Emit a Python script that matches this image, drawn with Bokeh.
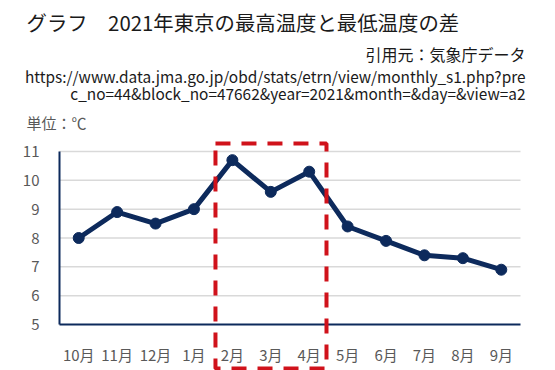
from bokeh.plotting import figure
from bokeh.models import Label, BoxAnnotation, FixedTicker, Range1d, LinearAxis
from bokeh.embed import file_html
from bokeh.resources import INLINE

months = ["10月", "11月", "12月", "1月", "2月", "3月", "4月", "5月", "6月", "7月", "8月", "9月"]
diff = [8.0, 8.9, 8.5, 9.0, 10.7, 9.6, 10.3, 8.4, 7.9, 7.4, 7.3, 6.9]
y_ticks = [5, 6, 7, 8, 9, 10, 11]
highlight = ["2月", "4月"]

FONT = "Noto Sans CJK JP"
NAVY = "#0d2a5c"
GRAY = "#595959"

W, H = 555, 370
# plot area in pixels (left, right, top, bottom)
FL, FR, FT, FB = 59, 520, 151, 324
n = len(months)
xpx = (FR - FL) / n
ypx = (FB - FT) / (y_ticks[-1] - y_ticks[0])
x0 = -0.5 - FL / xpx
x1 = n - 0.5 + (W - FR) / xpx
y0 = y_ticks[0] - (H - FB) / ypx
y1 = y_ticks[-1] + FT / ypx

p = figure(width=W, height=H, x_range=Range1d(x0, x1), y_range=Range1d(y0, y1),
           output_backend="svg", toolbar_location=None,
           x_axis_location=None, y_axis_location=None,
           min_border=0, min_border_left=0, min_border_right=0,
           min_border_top=0, min_border_bottom=0)
p.outline_line_color = None
p.background_fill_color = "white"
p.xgrid.grid_line_color = None
p.ygrid.grid_line_color = None

xs = list(range(n))

# grid lines
gx0 = [-0.5] * (len(y_ticks) - 1)
gx1 = [n - 0.5] * (len(y_ticks) - 1)
p.segment(x0=gx0, y0=y_ticks[1:], x1=gx1, y1=y_ticks[1:],
          line_color="#d9d9d9", line_width=1.5)

xaxis = LinearAxis(fixed_location=y_ticks[0], bounds=(-0.5, n - 0.5),
                   ticker=FixedTicker(ticks=xs),
                   major_label_overrides={i: m for i, m in enumerate(months)})
yaxis = LinearAxis(fixed_location=-0.5, bounds=(y_ticks[0], y_ticks[-1]),
                   ticker=FixedTicker(ticks=y_ticks))
for ax in (xaxis, yaxis):
    ax.axis_line_color = NAVY
    ax.axis_line_width = 2
    ax.major_tick_line_color = None
    ax.minor_tick_line_color = None
    ax.major_label_text_font = FONT
    ax.major_label_text_font_size = "15px"
    ax.major_label_text_color = GRAY
xaxis.major_label_standoff = 13
yaxis.major_label_standoff = 14
p.add_layout(xaxis, "below")
p.add_layout(yaxis, "left")

p.line(xs, diff, line_color=NAVY, line_width=5)
p.scatter(xs, diff, size=11, fill_color=NAVY, line_color=NAVY)

i0 = months.index(highlight[0])
i1 = months.index(highlight[1])
box = BoxAnnotation(left=i0 - 0.44, right=i1 + 0.45,
                    top=y1 - 143 / ypx, bottom=y1 - 368 / ypx,
                    fill_color=None, fill_alpha=0, line_color="#d0121b", line_alpha=1,
                    line_width=4, line_dash="15 11")
p.add_layout(box)

def lab(x, y, text, size, color="#1a1a1a", align="left", font=FONT):
    p.add_layout(Label(x=x, y=H - y, x_units="screen", y_units="screen",
                       text=text, text_align=align, text_baseline="middle",
                       text_font=font, text_font_size=size, text_color=color))

lab(26, 21, "グラフ　2021年東京の最高温度と最低温度の差", "20.4px")
lab(525, 53, "引用元：気象庁データ", "16px", align="right")
lab(525, 75, "https://www.data.jma.go.jp/obd/stats/etrn/view/monthly_s1.php?pre", "15.4px", align="right")
lab(525, 92, "c_no=44&block_no=47662&year=2021&month=&day=&view=a2", "15.4px", align="right")
lab(26, 122, "単位：℃", "15px", color=GRAY)

open("out.html", "w").write(file_html(p, INLINE))
